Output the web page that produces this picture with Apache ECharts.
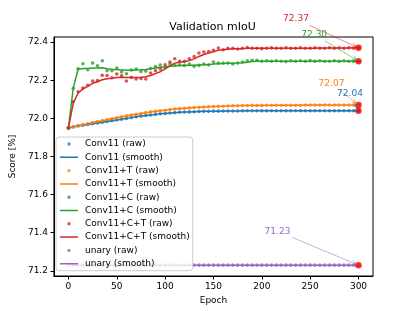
<!DOCTYPE html>
<html><head><meta charset="utf-8">
<script src="https://cdn.jsdelivr.net/npm/echarts@6/dist/echarts.min.js"></script>
<style>html,body{margin:0;padding:0;background:#fff}#c{width:415px;height:311px}</style>
</head><body><div id="c"></div>
<script>
const epochs = [0,5,10,15,20,25,30,35,40,45,50,55,60,65,70,75,80,85,90,95,100,105,110,115,120,125,130,135,140,145,150,155,160,165,170,175,180,185,190,195,200,205,210,215,220,225,230,235,240,245,250,255,260,265,270,275,280,285,290,295,300];

const conv11Raw = [71.950,71.955,71.960,71.964,71.968,71.972,71.976,71.980,71.984,71.988,71.992,71.996,72.000,72.004,72.008,72.012,72.015,72.018,72.021,72.024,72.026,72.028,72.030,72.032,72.033,72.034,72.035,72.036,72.037,72.037,72.038,72.038,72.039,72.039,72.039,72.039,72.040,72.040,72.040,72.040,72.040,72.040,72.040,72.040,72.040,72.040,72.040,72.040,72.040,72.040,72.040,72.040,72.040,72.040,72.040,72.040,72.040,72.040,72.040,72.040,72.040];
const conv11Smooth = [71.950,71.955,71.960,71.964,71.968,71.972,71.976,71.980,71.984,71.988,71.992,71.996,72.000,72.004,72.008,72.012,72.015,72.018,72.021,72.024,72.026,72.028,72.030,72.032,72.033,72.034,72.035,72.036,72.037,72.037,72.038,72.038,72.039,72.039,72.039,72.039,72.040,72.040,72.040,72.040,72.040,72.040,72.040,72.040,72.040,72.040,72.040,72.040,72.040,72.040,72.040,72.040,72.040,72.040,72.040,72.040,72.040,72.040,72.040,72.040,72.040];

const conv11TRaw = [71.950,71.956,71.962,71.967,71.972,71.978,71.983,71.988,71.993,71.998,72.003,72.008,72.013,72.018,72.022,72.026,72.030,72.034,72.037,72.040,72.043,72.046,72.049,72.051,72.053,72.055,72.057,72.058,72.060,72.061,72.062,72.063,72.064,72.065,72.066,72.066,72.067,72.067,72.068,72.068,72.068,72.069,72.069,72.069,72.069,72.069,72.069,72.069,72.069,72.070,72.070,72.070,72.070,72.070,72.070,72.070,72.070,72.070,72.070,72.070,72.070];
const conv11TSmooth = [71.950,71.956,71.962,71.967,71.972,71.978,71.983,71.988,71.993,71.998,72.003,72.008,72.013,72.018,72.022,72.026,72.030,72.034,72.037,72.040,72.043,72.046,72.049,72.051,72.053,72.055,72.057,72.058,72.060,72.061,72.062,72.063,72.064,72.065,72.066,72.066,72.067,72.067,72.068,72.068,72.068,72.069,72.069,72.069,72.069,72.069,72.069,72.069,72.069,72.070,72.070,72.070,72.070,72.070,72.070,72.070,72.070,72.070,72.070,72.070,72.070];

const conv11CRaw = [71.950,72.158,72.260,72.287,72.255,72.290,72.276,72.302,72.250,72.250,72.264,72.243,72.234,72.254,72.259,72.246,72.248,72.262,72.272,72.280,72.267,72.285,72.281,72.281,72.278,72.285,72.273,72.278,72.285,72.281,72.296,72.290,72.290,72.290,72.285,72.290,72.296,72.302,72.305,72.305,72.300,72.302,72.300,72.302,72.300,72.298,72.302,72.300,72.302,72.300,72.303,72.300,72.302,72.300,72.300,72.302,72.300,72.302,72.300,72.300,72.300];
const conv11CSmooth = [71.950,72.160,72.258,72.262,72.262,72.264,72.265,72.266,72.260,72.256,72.256,72.254,72.252,72.253,72.254,72.255,72.257,72.260,72.264,72.268,72.270,72.273,72.275,72.277,72.278,72.279,72.279,72.280,72.281,72.282,72.285,72.287,72.288,72.289,72.289,72.290,72.292,72.295,72.298,72.300,72.300,72.300,72.300,72.300,72.300,72.300,72.300,72.300,72.300,72.300,72.300,72.300,72.300,72.300,72.300,72.300,72.300,72.300,72.300,72.300,72.300];

const conv11CTRaw = [71.950,72.087,72.140,72.159,72.174,72.196,72.198,72.226,72.225,72.213,72.233,72.224,72.196,72.215,72.207,72.209,72.207,72.238,72.250,72.260,72.281,72.296,72.313,72.300,72.299,72.313,72.325,72.343,72.348,72.351,72.357,72.369,72.360,72.368,72.368,72.364,72.368,72.372,72.368,72.368,72.366,72.368,72.370,72.368,72.368,72.370,72.368,72.368,72.370,72.368,72.368,72.370,72.368,72.368,72.370,72.368,72.370,72.368,72.370,72.368,72.370];
const conv11CTSmooth = [71.950,72.080,72.133,72.155,72.168,72.184,72.192,72.203,72.208,72.210,72.214,72.216,72.214,72.215,72.215,72.216,72.218,72.225,72.235,72.245,72.260,72.275,72.290,72.295,72.298,72.303,72.312,72.325,72.335,72.343,72.350,72.358,72.360,72.363,72.365,72.365,72.366,72.368,72.368,72.368,72.368,72.368,72.368,72.368,72.368,72.368,72.368,72.368,72.368,72.368,72.368,72.368,72.369,72.369,72.369,72.369,72.369,72.369,72.369,72.370,72.370];

const unaryRaw = [71.23,71.23,71.23,71.23,71.23,71.23,71.23,71.23,71.23,71.23,71.23,71.23,71.23,71.23,71.23,71.23,71.23,71.23,71.23,71.23,71.23,71.23,71.23,71.23,71.23,71.23,71.23,71.23,71.23,71.23,71.23,71.23,71.23,71.23,71.23,71.23,71.23,71.23,71.23,71.23,71.23,71.23,71.23,71.23,71.23,71.23,71.23,71.23,71.23,71.23,71.23,71.23,71.23,71.23,71.23,71.23,71.23,71.23,71.23,71.23,71.23];
const unarySmooth = [71.23,71.23,71.23,71.23,71.23,71.23,71.23,71.23,71.23,71.23,71.23,71.23,71.23,71.23,71.23,71.23,71.23,71.23,71.23,71.23,71.23,71.23,71.23,71.23,71.23,71.23,71.23,71.23,71.23,71.23,71.23,71.23,71.23,71.23,71.23,71.23,71.23,71.23,71.23,71.23,71.23,71.23,71.23,71.23,71.23,71.23,71.23,71.23,71.23,71.23,71.23,71.23,71.23,71.23,71.23,71.23,71.23,71.23,71.23,71.23,71.23];

const xTicks = [0,50,100,150,200,250,300];
const yTicks = [71.2,71.4,71.6,71.8,72.0,72.2,72.4];

const FONT = 'DejaVu Sans';
const methods = [
  {name:'Conv11', raw:conv11Raw, smooth:conv11Smooth, color:'#1f77b4', off:[-8.5,-17.2]},
  {name:'Conv11+T', raw:conv11TRaw, smooth:conv11TSmooth, color:'#ff7f0e', off:[-27,-21.5]},
  {name:'Conv11+C', raw:conv11CRaw, smooth:conv11CSmooth, color:'#2ca02c', off:[-44.3,-26.8]},
  {name:'Conv11+C+T', raw:conv11CTRaw, smooth:conv11CTSmooth, color:'#d62728', off:[-62.5,-28.8]},
  {name:'unary', raw:unaryRaw, smooth:unarySmooth, color:'#9467bd', off:[-81,-33.8]}
];
const dotIcon = 'path://M0,0h0.01v0.01h-0.01zM18,10h0.01v0.01h-0.01zM7.3,5a1.7,1.7 0 1 0 3.4,0a1.7,1.7 0 1 0 -3.4,0z';
const lineIcon = 'path://M0,0h0.01v0.01h-0.01zM18,10h0.01v0.01h-0.01zM0,4.25h18v1.5h-18z';

const series = [];
const legendData = [];
methods.forEach(m => {
  series.push({type:'scatter', name:m.name+' (raw)', data:epochs.map((e,i)=>[e,m.raw[i]]),
    symbol:'circle', symbolSize:3.6, itemStyle:{color:m.color}, z:2, silent:true});
  series.push({type:'line', name:m.name+' (smooth)', data:epochs.map((e,i)=>[e,m.smooth[i]]),
    symbol:'none', lineStyle:{width:1.5,color:m.color}, itemStyle:{color:m.color}, z:2, silent:true});
  legendData.push({name:m.name+' (raw)', icon:dotIcon, itemStyle:{color:m.color, borderWidth:0}});
  legendData.push({name:m.name+' (smooth)', icon:lineIcon, itemStyle:{color:m.color, borderWidth:0}, lineStyle:{width:0}});
});
const last = epochs.length-1;
series.push({type:'scatter', name:'final', data:methods.map(m=>[epochs[last], m.raw[last]]),
  symbol:'circle', symbolSize:6.5, itemStyle:{color:'#ff0000'}, z:6, silent:true});

const chart = echarts.init(document.getElementById('c'), null, {renderer:'canvas'});
const axisText = {fontFamily:FONT, fontSize:9, color:'#000'};
chart.setOption({
  animation:false,
  backgroundColor:'#fff',
  grid:{left:52, right:42, top:37, bottom:35, show:true, borderColor:'#000', borderWidth:1, backgroundColor:'transparent'},
  xAxis:{type:'value', min:-15, max:315,
    splitLine:{show:false},
    axisLine:{show:true, onZero:false, lineStyle:{color:'#000', width:1}},
    axisTick:{show:true, length:3.5, lineStyle:{color:'#000', width:1}, customValues:xTicks},
    axisLabel:Object.assign({customValues:xTicks, margin:6}, axisText),
    name:'Epoch', nameLocation:'middle', nameGap:18, nameTextStyle:axisText},
  yAxis:{type:'value', min:71.173, max:72.427,
    splitLine:{show:false},
    axisLine:{show:true, onZero:false, lineStyle:{color:'#000', width:1}},
    axisTick:{show:true, length:3.5, lineStyle:{color:'#000', width:1}, customValues:yTicks},
    axisLabel:Object.assign({customValues:yTicks, margin:6, formatter:v=>Number(v).toFixed(1)}, axisText),
    name:'Score [%]', nameLocation:'middle', nameGap:31, nameRotate:90, nameTextStyle:axisText},
  legend:{orient:'vertical', left:56, top:137, itemWidth:18, itemHeight:10, itemGap:3.3,
    padding:[2,3,2,4], backgroundColor:'rgba(255,255,255,0.8)', borderColor:'#cccccc', borderWidth:1, borderRadius:3,
    selectedMode:false, z:10, data:legendData,
    textStyle:{fontFamily:FONT, fontSize:9, color:'#000', padding:[0,0,0,2]}},
  series:series
});

const g = [];
g.push({type:'text', x:212.5, y:27.5, z:20, style:{text:'Validation mIoU', font:'11px "DejaVu Sans"', fill:'#000', align:'center', verticalAlign:'middle'}});
methods.forEach(m => {
  const p = chart.convertToPixel({gridIndex:0}, [epochs[last], m.raw[last]]);
  const c = [p[0]+m.off[0], p[1]+m.off[1]];
  g.push({type:'text', x:c[0], y:c[1], z:20, style:{text:m.raw[last].toFixed(2), font:'9px "DejaVu Sans"', fill:m.color, align:'center', verticalAlign:'middle'}});
  const dx = p[0]-c[0], dy = p[1]-c[1];
  const len = Math.hypot(dx,dy), ux = dx/len, uy = dy/len;
  const t = Math.min(13/Math.abs(dx), 5.5/Math.abs(dy));
  const s = [c[0]+dx*t+ux*2, c[1]+dy*t+uy*2];
  const e = [p[0]-ux*2, p[1]-uy*2];
  const hl = 5, hw = 2.2;
  const bx = e[0]-ux*hl, by = e[1]-uy*hl;
  g.push({type:'line', z:19, shape:{x1:s[0], y1:s[1], x2:e[0], y2:e[1]}, style:{stroke:m.color, lineWidth:0.9, opacity:0.6}});
  g.push({type:'polyline', z:19, shape:{points:[[bx-uy*hw, by+ux*hw],[e[0],e[1]],[bx+uy*hw, by-ux*hw]]}, style:{stroke:m.color, lineWidth:0.9, opacity:0.6, fill:null}});
});
chart.setOption({graphic:g});
</script></body></html>
